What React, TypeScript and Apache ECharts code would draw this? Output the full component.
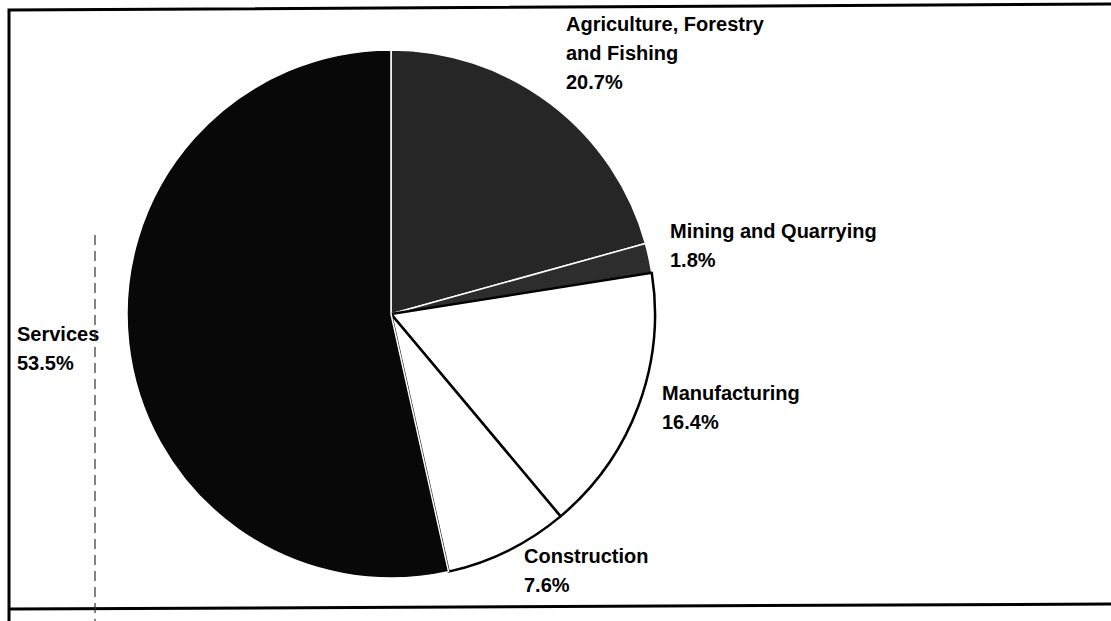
import React, { useEffect, useRef } from "react";
import * as echarts from "echarts";

const categories = [
  "Agriculture, Forestry\nand Fishing",
  "Mining and Quarrying",
  "Manufacturing",
  "Construction",
  "Services",
];
const shares = [20.7, 1.8, 16.4, 7.6, 53.5];
const sliceColors = ["#262626", "#2d2d2d", "#ffffff", "#ffffff", "#080808"];
const sliceBorders = ["#ffffff", "#ffffff", "#000000", "#000000", "#ffffff"];
const labelPos: [number, number][] = [
  [566, 9],
  [670, 216],
  [662, 378],
  [524, 541],
  [17, 319],
];

export default function App() {
  const ref = useRef<HTMLDivElement>(null);
  useEffect(() => {
    if (!ref.current) return;
    const chart = echarts.init(ref.current, undefined, { renderer: "svg" });
    chart.setOption({
      animation: false,
      backgroundColor: "#ffffff",
      graphic: [
        {
          type: "polyline",
          shape: { points: [[1111, 4], [9, 10], [9, 621]] },
          style: { stroke: "#000", lineWidth: 3, fill: "none" },
          z: 10,
        },
        {
          type: "line",
          shape: { x1: 9, y1: 609, x2: 1111, y2: 604 },
          style: { stroke: "#000", lineWidth: 3 },
          z: 10,
        },
        {
          type: "line",
          shape: { x1: 95, y1: 235, x2: 95, y2: 621 },
          style: { stroke: "#333", lineWidth: 1.2, lineDash: [10, 6] },
          z: 10,
        },
      ],
      series: [
        {
          type: "pie",
          center: [391, 314],
          radius: 264,
          startAngle: 90,
          clockwise: true,
          avoidLabelOverlap: false,
          labelLine: { show: false },
          label: {
            show: true,
            position: "outside",
            color: "#000",
            fontFamily: "'Liberation Sans', Arial, sans-serif",
            fontWeight: "bold",
            fontSize: 20,
            lineHeight: 29,
            formatter: (p: any) => `${p.name}\n${Number(p.value).toFixed(1)}%`,
          },
          labelLayout: (params: any) => {
            const pos = labelPos[params.dataIndex];
            return { x: pos[0], y: pos[1], align: "left", verticalAlign: "top" };
          },
          emphasis: { disabled: true },
          data: categories.map((name, i) => ({
            name,
            value: shares[i],
            itemStyle: {
              color: sliceColors[i],
              borderColor: sliceBorders[i],
              borderWidth: sliceBorders[i] === "#000000" ? 2.5 : 1.5,
            },
          })),
        },
      ],
    });
    return () => chart.dispose();
  }, []);
  return (
    <div
      ref={ref}
      style={{ position: "fixed", left: 0, top: 0, width: 1111, height: 621 }}
    />
  );
}
